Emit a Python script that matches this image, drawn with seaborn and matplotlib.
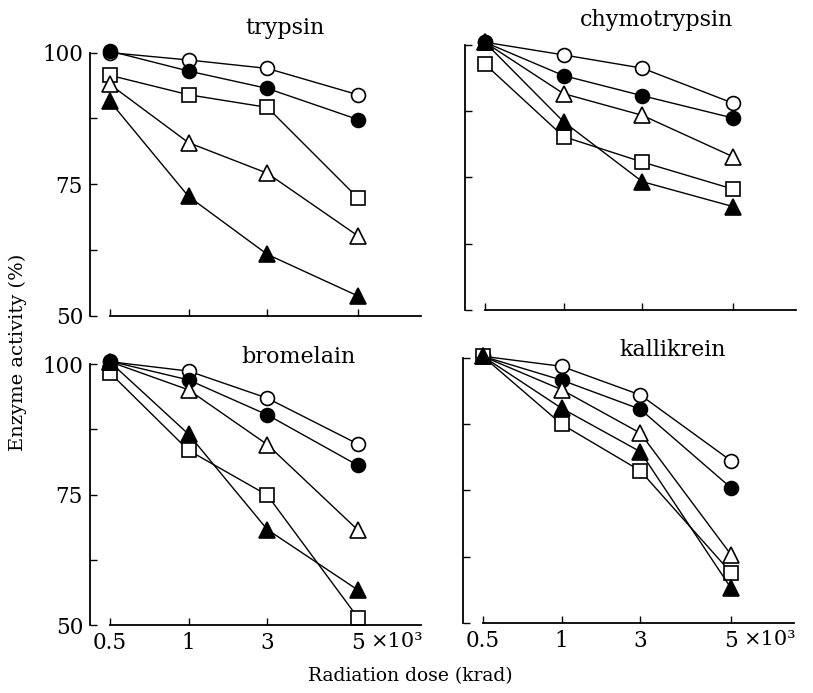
import numpy as np
import pandas as pd
import matplotlib
matplotlib.use("Agg")
import matplotlib.pyplot as plt
import seaborn as sns

# Radiation dose (x10^3 krad)
doses = [0.5, 1, 3, 5]
dose_labels = ["0.5", "1", "3", "5"]

# Enzyme activity (%), one list per symbol
trypsin = {
    "open_circle": [100.0, 98.6, 97.0, 92.0],
    "filled_circle": [100.3, 96.5, 93.2, 87.3],
    "open_square": [95.7, 92.0, 89.6, 72.4],
    "open_triangle": [94.0, 82.9, 77.1, 65.2],
    "filled_triangle": [90.8, 72.7, 61.7, 53.8],
}
chymotrypsin = {
    "open_circle": [100.5, 98.1, 95.6, 89.0],
    "filled_circle": [100.5, 94.2, 90.4, 86.2],
    "open_square": [96.4, 82.7, 77.9, 72.8],
    "open_triangle": [100.5, 90.8, 86.7, 78.9],
    "filled_triangle": [100.5, 85.5, 74.2, 69.5],
}
bromelain = {
    "open_circle": [100.5, 98.7, 93.5, 84.7],
    "filled_circle": [100.6, 97.0, 90.3, 80.6],
    "open_square": [98.4, 83.5, 74.9, 51.4],
    "open_triangle": [100.5, 95.1, 84.6, 68.2],
    "filled_triangle": [100.5, 86.6, 68.3, 56.7],
}
kallikrein = {
    "open_circle": [100.3, 98.4, 93.0, 80.6],
    "filled_circle": [100.3, 95.8, 90.3, 75.5],
    "open_square": [100.3, 87.5, 78.7, 59.5],
    "open_triangle": [100.3, 94.0, 85.8, 62.9],
    "filled_triangle": [100.3, 90.5, 82.3, 56.6],
}

# marker style per series: (marker, face colour, size)
styles = {
    "open_circle": ("o", "white", 10),
    "filled_circle": ("o", "black", 10),
    "open_square": ("s", "white", 9.5),
    "open_triangle": ("^", "white", 11),
    "filled_triangle": ("^", "black", 11),
}

# the dose axis is not evenly spaced: 5 sits a bit further out
dose_knots = np.array([0.5, 1, 3, 5])
pos_knots = np.array([0.0, 1.0, 2.0, 3.15])


def fwd(d):
    d = np.asarray(d, dtype=float)
    p = np.interp(d, dose_knots, pos_knots)
    p = np.where(d < 0.5, (d - 0.5) / 0.5, p)
    p = np.where(d > 5, 3.15 + (d - 5) * 1.15 / 2, p)
    return p


def inv(p):
    p = np.asarray(p, dtype=float)
    d = np.interp(p, pos_knots, dose_knots)
    d = np.where(p < 0, 0.5 + p * 0.5, d)
    d = np.where(p > 3.15, 5 + (p - 3.15) * 2 / 1.15, d)
    return d


sns.set_style("ticks")
plt.rcParams["font.family"] = ["DejaVu Serif"]
plt.rcParams["text.color"] = "black"
plt.rcParams["xtick.color"] = "black"
plt.rcParams["ytick.color"] = "black"
plt.rcParams["axes.edgecolor"] = "black"

fig = plt.figure(figsize=(8.13, 6.93), dpi=100)
W, H = 813, 693


def rect(left, right, top, bottom):
    return [left / W, 1 - bottom / H, (right - left) / W, (bottom - top) / H]


panels = [
    ("trypsin", trypsin, rect(90, 421, 21, 316), (0.59, 0.975), True, False),
    ("chymotrypsin", chymotrypsin, rect(465, 796, 13, 310), (0.58, 0.975), False, False),
    ("bromelain", bromelain, rect(90, 421, 333, 625), (0.63, 0.918), True, True),
    ("kallikrein", kallikrein, rect(463, 794, 326, 623), (0.634, 0.919), False, True),
]

for name, series, r, title_pos, ylab, xlab in panels:
    ax = fig.add_axes(r)
    ax.set_xscale("function", functions=(fwd, inv))
    for key, vals in series.items():
        marker, face, size = styles[key]
        df = pd.DataFrame({"dose": doses, "activity": vals})
        sns.lineplot(data=df, x="dose", y="activity", ax=ax, color="black",
                     linewidth=1.0, marker=marker, markersize=size,
                     markerfacecolor=face, markeredgecolor="black",
                     markeredgewidth=1.2, legend=False)
    ax.set_xlim(inv(-0.25), inv(3.95))
    ax.set_ylim(50, 106)
    sns.despine(ax=ax)
    ax.spines["left"].set_bounds(50, 100)
    ax.spines["bottom"].set_bounds(0.5, float(inv(3.95)))
    ax.spines["left"].set_linewidth(1.3)
    ax.spines["bottom"].set_linewidth(1.3)
    ax.set_yticks([50, 62.5, 75, 87.5, 100])
    ax.set_xticks(doses)
    ax.xaxis.set_minor_locator(matplotlib.ticker.NullLocator())
    ax.tick_params(direction="in", length=5, width=1.0, labelsize=15.5, pad=5)
    if ylab:
        ax.set_yticklabels(["50", "", "75", "", "100"])
    else:
        ax.set_yticklabels([])
    if xlab:
        ax.set_xticklabels(dose_labels)
        ax.annotate("×10³", xy=(5, 0), xycoords=ax.get_xaxis_transform(),
                    xytext=(9, -5), textcoords="offset points",
                    ha="left", va="top", fontsize=15)
    else:
        ax.set_xticklabels([])
    ax.set_xlabel("")
    ax.set_ylabel("")
    ax.text(title_pos[0], title_pos[1], name, transform=ax.transAxes,
            ha="center", va="center", fontsize=16)

fig.text(18 / W, 1 - 352 / H, "Enzyme activity (%)", rotation=90,
         ha="center", va="center", fontsize=14)
fig.text(410 / W, 1 - 676 / H, "Radiation dose (krad)",
         ha="center", va="center", fontsize=13.5)

fig.savefig("out.png", dpi=100)
